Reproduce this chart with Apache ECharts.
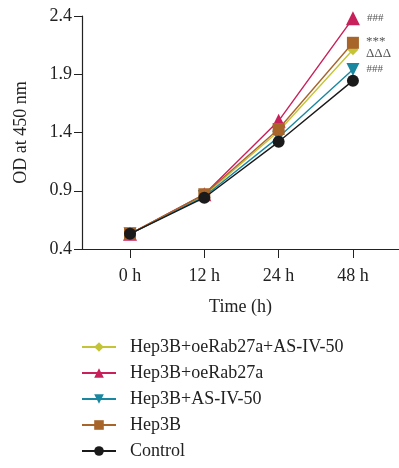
<!DOCTYPE html>
<html>
<head>
<meta charset="utf-8">
<script src="https://cdn.jsdelivr.net/npm/echarts@6/dist/echarts.min.js"></script>
<style>
  html, body { margin: 0; padding: 0; background: #fff; }
  #main { width: 399px; height: 468px; }
</style>
</head>
<body>
<div id="main"></div>
<script>
const categories = ["0 h", "12 h", "24 h", "48 h"];
const yTicks = [0.4, 0.9, 1.4, 1.9, 2.4];

const names = ["Hep3B+oeRab27a+AS-IV-50", "Hep3B+oeRab27a", "Hep3B+AS-IV-50", "Hep3B", "Control"];
const comboVals = [0.53, 0.86, 1.41, 2.11];
const oeRabVals = [0.53, 0.87, 1.50, 2.38];
const asivVals = [0.53, 0.85, 1.36, 1.94];
const hep3bVals = [0.53, 0.87, 1.43, 2.17];
const controlVals = [0.53, 0.84, 1.32, 1.845];

// significance marks at 48 h
const marks = ["", "###", "###", "***\nΔΔΔ", ""];

const colors = ["#c4c536", "#c8205a", "#1a87a0", "#a8652a", "#1a1a1a"];
const symbols = ["diamond", "triangle", "path://M0,0 L10,0 L5,9 Z", "rect", "circle"];
const sizes = [11, 14, 13, 12, 12];
const allVals = [comboVals, oeRabVals, asivVals, hep3bVals, controlVals];

const font = "'Liberation Serif', 'DejaVu Serif', serif";

var myChart = echarts.init(document.getElementById("main"));

const series = names.map((name, s) => ({
  name: name,
  type: "line",
  symbol: symbols[s],
  symbolSize: sizes[s],
  itemStyle: { color: colors[s] },
  lineStyle: { color: colors[s], width: 1.4 },
  z: 2 + s,
  data: allVals[s].map((v, i) => {
    const item = { value: [i, v] };
    if (i === categories.length - 1 && marks[s]) {
      item.label = {
        show: true,
        position: "right",
        distance: 7,
        formatter: marks[s],
        color: "#555",
        fontFamily: font,
        fontSize: s === 3 ? 13 : 11,
        lineHeight: 12,
        offset: s === 3 ? [0, 5] : [0, 0],
      };
    }
    return item;
  }),
}));

const option = {
  animation: false,
  textStyle: { fontFamily: font },
  grid: { left: 82, right: 0, top: 16, height: 233 },
  xAxis: {
    type: "value",
    min: -0.646,
    max: 3.62,
    name: "Time (h)",
    nameLocation: "middle",
    nameGap: 49,
    nameTextStyle: { fontSize: 18, color: "#222", fontFamily: font },
    splitLine: { show: false },
    axisLine: { lineStyle: { color: "#222", width: 1.2 } },
    axisTick: { customValues: [0, 1, 2, 3], length: 9, lineStyle: { color: "#222" } },
    axisLabel: {
      customValues: [0, 1, 2, 3],
      formatter: (v) => categories[Math.round(v)],
      fontSize: 18,
      color: "#222",
      margin: 18,
      fontFamily: font,
    },
  },
  yAxis: {
    type: "value",
    min: yTicks[0],
    max: yTicks[yTicks.length - 1],
    interval: 0.5,
    name: "OD at 450 nm",
    nameLocation: "middle",
    nameGap: 52,
    nameTextStyle: { fontSize: 18, color: "#222", fontFamily: font },
    splitLine: { show: false },
    axisLine: { show: true, onZero: false, lineStyle: { color: "#222", width: 1.2 } },
    axisTick: { show: true, length: 8, lineStyle: { color: "#222" } },
    axisLabel: {
      formatter: (v) => v.toFixed(1),
      fontSize: 18,
      color: "#222",
      margin: 10,
      fontFamily: font,
    },
  },
  legend: {
    orient: "vertical",
    left: 81,
    top: 338,
    padding: 0,
    itemWidth: 34,
    itemHeight: 12,
    itemGap: 8,
    textStyle: { fontSize: 18, color: "#222", fontFamily: font, padding: [0, 0, 0, 9] },
    data: names,
  },
  series: series,
};

myChart.setOption(option);
</script>
</body>
</html>
